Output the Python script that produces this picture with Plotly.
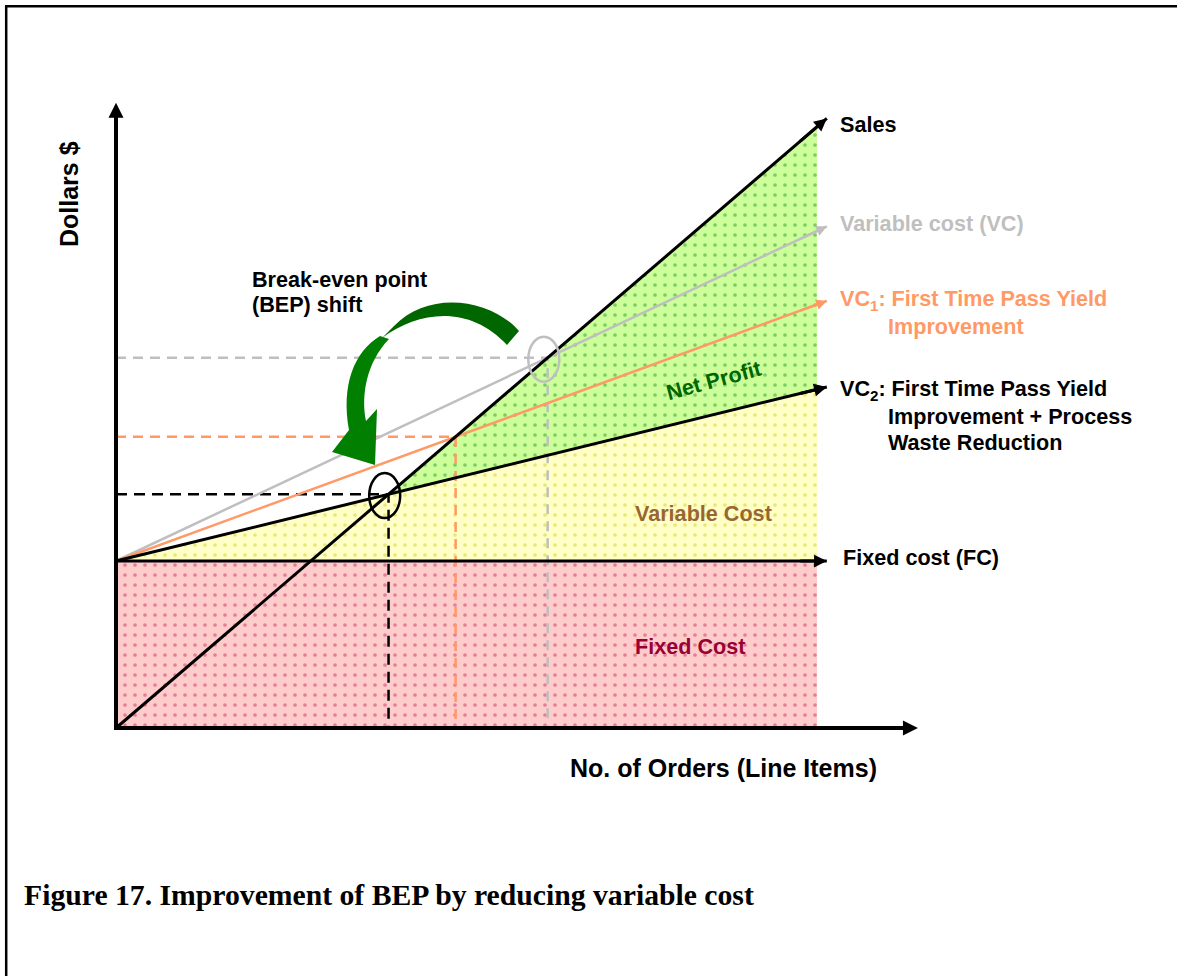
import plotly.graph_objects as go

# ---- canvas & unit scale -------------------------------------------------
W, H = 1177, 976
X0_PX, Y0_PX = 116, 728          # pixel position of the chart origin
PX_PER_X, PX_PER_Y = 7.01, 6.68  # pixels per unit on each axis


def ux(px):
    return (px - X0_PX) / PX_PER_X


def uy(py):
    return (Y0_PX - py) / PX_PER_Y


# ---- chart values (arbitrary units) --------------------------------------
x_end = 100.0          # extent of the shaded regions
x_arrow = 101.4        # cost / revenue lines end here with an arrow
x_axis_end = 114.4
y_axis_end = 93.6
fixed_cost = 25.0
sales_rate = 0.90
vc_names = ["VC", "VC1", "VC2"]
vc_rates = [0.494, 0.384, 0.257]
vc_colors = ["#BFBFBF", "#FF9966", "#000000"]
vc_widths = [2.5, 2.5, 3]


def sales(x):
    return sales_rate * x


def vc_line(rate, x):
    return fixed_cost + rate * x


bep_x = [fixed_cost / (sales_rate - r) for r in vc_rates]
bep_y = [sales(x) for x in bep_x]

LABEL_FONT = "Liberation Sans, Arial, sans-serif"
fig = go.Figure()

# ---- shaded regions ------------------------------------------------------
vc2 = vc_rates[2]
DOT = dict(shape=".", size=10, solidity=0.11)
fig.add_trace(go.Scatter(
    x=[0, x_end, x_end, 0, 0], y=[0, 0, fixed_cost, fixed_cost, 0],
    fill="toself", mode="lines", line=dict(width=0),
    fillpattern=dict(DOT, bgcolor="#FFCCCC", fgcolor="#C8305E"),
    hoverinfo="skip"))
fig.add_trace(go.Scatter(
    x=[0, x_end, x_end, 0], y=[fixed_cost, fixed_cost, vc_line(vc2, x_end), fixed_cost],
    fill="toself", mode="lines", line=dict(width=0),
    fillpattern=dict(DOT, bgcolor="#FFFFC6", fgcolor="#CFCF2A"),
    hoverinfo="skip"))
fig.add_trace(go.Scatter(
    x=[bep_x[2], x_end, x_end, bep_x[2]],
    y=[bep_y[2], sales(x_end), vc_line(vc2, x_end), bep_y[2]],
    fill="toself", mode="lines", line=dict(width=0),
    fillpattern=dict(DOT, bgcolor="#CCFF99", fgcolor="#2E9A2E"),
    hoverinfo="skip"))

# ---- break-even guide lines ---------------------------------------------
dash_styles = ["10px,7px", "10px,7px", "11px,7px"]
for bx, by, col, dsh in zip(bep_x, bep_y, vc_colors, dash_styles):
    fig.add_trace(go.Scatter(x=[0, bx, bx], y=[by, by, 0], mode="lines",
                             line=dict(color=col, width=2.5, dash=dsh),
                             hoverinfo="skip"))

# ---- cost and revenue lines ---------------------------------------------
arrows = []
for rate, col, w in zip(vc_rates, vc_colors, vc_widths):
    fig.add_trace(go.Scatter(x=[0, x_arrow], y=[vc_line(rate, 0), vc_line(rate, x_arrow)],
                             mode="lines", line=dict(color=col, width=w),
                             hoverinfo="skip"))
    arrows.append((x_arrow, vc_line(rate, x_arrow), x_arrow - 4, vc_line(rate, x_arrow - 4), col, w))

fig.add_trace(go.Scatter(x=[0, x_arrow], y=[fixed_cost, fixed_cost], mode="lines",
                         line=dict(color="black", width=3), hoverinfo="skip"))
arrows.append((x_arrow, fixed_cost, x_arrow - 4, fixed_cost, "black", 3))

fig.add_trace(go.Scatter(x=[0, x_arrow], y=[sales(0), sales(x_arrow)], mode="lines",
                         line=dict(color="black", width=3), hoverinfo="skip"))
arrows.append((x_arrow, sales(x_arrow), x_arrow - 4, sales(x_arrow - 4), "black", 3))

# axes drawn as heavy arrows
fig.add_trace(go.Scatter(x=[0, 0, x_axis_end - 2], y=[y_axis_end - 2, 0, 0], mode="lines",
                         line=dict(color="black", width=4), hoverinfo="skip"))

annotations = []
for x, y, ax, ay, col, w in arrows:
    annotations.append(dict(x=x, y=y, ax=ax, ay=ay, xref="x", yref="y", axref="x", ayref="y",
                            text="", showarrow=True, arrowhead=2, arrowsize=0.85,
                            arrowwidth=w, arrowcolor=col))
annotations.append(dict(x=0, y=y_axis_end, ax=0, ay=y_axis_end - 6, xref="x", yref="y",
                        axref="x", ayref="y", text="", showarrow=True, arrowhead=2,
                        arrowsize=0.75, arrowwidth=4, arrowcolor="black"))
annotations.append(dict(x=x_axis_end, y=0, ax=x_axis_end - 6, ay=0, xref="x", yref="y",
                        axref="x", ayref="y", text="", showarrow=True, arrowhead=2,
                        arrowsize=0.75, arrowwidth=4, arrowcolor="black"))

# ---- shapes: frame, BEP ellipses, shift arrow ----------------------------
shapes = [
    dict(type="line", xref="paper", yref="paper", x0=5 / W, x1=1.05, y0=1 - 6.2 / H, y1=1 - 6.2 / H,
         line=dict(color="black", width=2.5)),
    dict(type="line", xref="paper", yref="paper", x0=6.2 / W, x1=6.2 / W, y0=1 - 5 / H, y1=-0.05,
         line=dict(color="black", width=2.5)),
]
rx, ry = 15.5 / PX_PER_X, 22.5 / PX_PER_Y
for i, col in ((0, "#BFBFBF"), (2, "black")):
    cx, cy = bep_x[i] - 0.55, bep_y[i] - 0.2
    shapes.append(dict(type="circle", xref="x", yref="y", x0=cx - rx, x1=cx + rx,
                       y0=cy - ry, y1=cy + ry, line=dict(color=col, width=2.5)))


def px_path(cmds):
    out = []
    for letter, pts in cmds:
        out.append(letter + " ".join(f"{ux(a):.3f},{uy(b):.3f}" for a, b in pts))
    return " ".join(out)


upper_arc = px_path([("M", [(519, 331)]),
                     ("C", [(490, 298), (428, 290), (394, 326)]),
                     ("L", [(382, 338)]),
                     ("C", [(420, 310), (470, 305), (507, 345)]),
                     ("Z", [])])
lower_arc = px_path([("M", [(380, 336)]),
                     ("C", [(354, 352), (341, 385), (349, 430)]),
                     ("L", [(332, 452)]),
                     ("L", [(375, 465)]),
                     ("L", [(377, 409)]),
                     ("L", [(366, 421)]),
                     ("C", [(361, 396), (366, 363), (389, 339)]),
                     ("Z", [])])
shapes.append(dict(type="path", xref="x", yref="y", path=upper_arc,
                   fillcolor="#006600", line=dict(width=0)))
shapes.append(dict(type="path", xref="x", yref="y", path=lower_arc,
                   fillcolor="#007F00", line=dict(width=0)))

# ---- text ----------------------------------------------------------------


def label(text, px, py, color="black", size=21.6, xanchor="left", angle=0, family=LABEL_FONT):
    annotations.append(dict(x=ux(px), y=uy(py), xref="x", yref="y", text=text,
                            showarrow=False, xanchor=xanchor, yanchor="middle",
                            textangle=angle,
                            font=dict(family=family, size=size, color=color, weight="bold")))


label("Sales", 838, 124)
label("Variable cost (VC)", 838, 223, color="#BFBFBF")
label("VC<sub>1</sub>: First Time Pass Yield", 838, 300, color="#FF9966")
label("Improvement", 886, 326, color="#FF9966")
label("VC<sub>2</sub>: First Time Pass Yield", 838, 390)
label("Improvement + Process", 886, 416)
label("Waste Reduction", 886, 442)
label("Fixed cost (FC)", 841, 557)
label("Net Profit", 713, 380, color="#006600", xanchor="center", angle=-15)
label("Variable Cost", 633, 513, color="#996633")
label("Fixed Cost", 633, 646, color="#990033")
label("Break-even point", 250, 279)
label("(BEP) shift", 250, 304)
label("Dollars $", 69, 194, size=25, xanchor="center", angle=-90)
label("No. of Orders (Line Items)", 723, 768, size=25, xanchor="center")
label("Figure 17. Improvement of BEP by reducing variable cost", 22, 895, size=29.7,
      family="Liberation Serif, Times New Roman, serif")

fig.update_layout(
    width=W, height=H, autosize=False,
    margin=dict(l=0, r=0, t=0, b=0, pad=0),
    paper_bgcolor="white", plot_bgcolor="white",
    showlegend=False,
    xaxis=dict(range=[ux(0), ux(W)], visible=False, fixedrange=True),
    yaxis=dict(range=[uy(H), uy(0)], visible=False, fixedrange=True),
    shapes=shapes,
    annotations=annotations,
)

# keep the page itself from scrolling around the fixed-size figure
fig.write_html("out.html", config={"displayModeBar": False},
               post_script="document.documentElement.style.overflow='hidden';"
                           "document.body.style.margin='0';"
                           "document.body.style.overflow='hidden';")
